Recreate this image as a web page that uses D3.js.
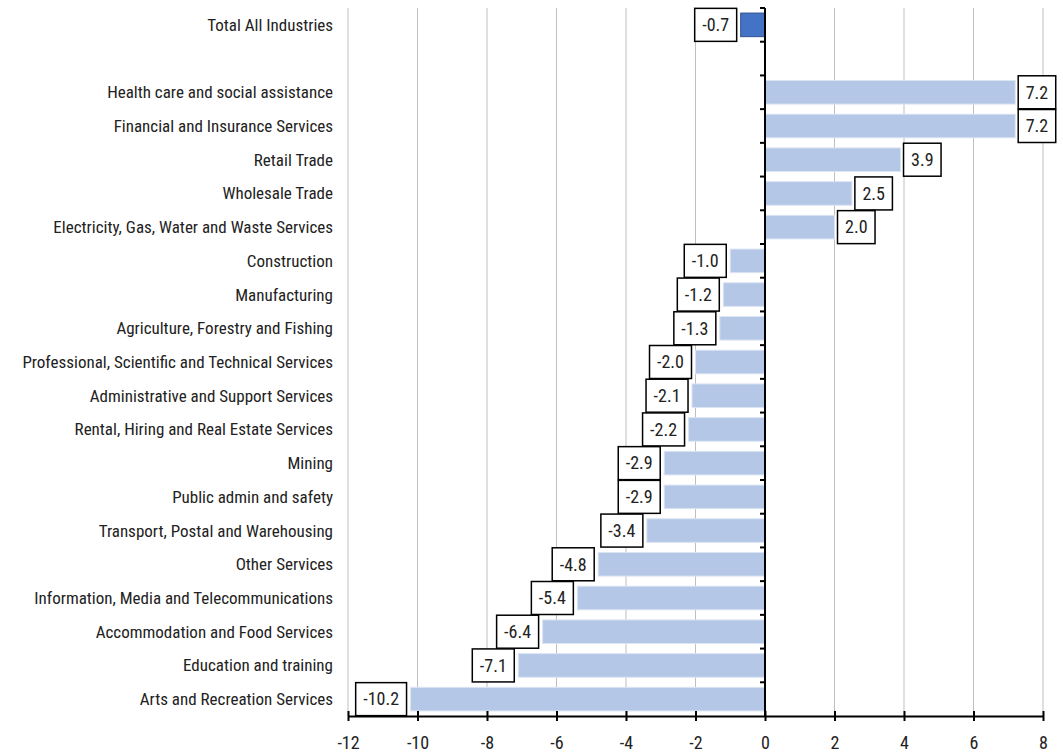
<!DOCTYPE html>
<html><head><meta charset="utf-8">
<script src="https://cdn.jsdelivr.net/npm/d3@7"></script>
<style>body{margin:0;background:#fff;} svg{display:block;}</style>
</head><body>
<svg id="c" width="1063" height="752"></svg>
<script>
const categories = ["Total All Industries","","Health care and social assistance","Financial and Insurance Services","Retail Trade","Wholesale Trade","Electricity, Gas, Water and Waste Services","Construction","Manufacturing","Agriculture, Forestry and Fishing","Professional, Scientific and Technical Services","Administrative and Support Services","Rental, Hiring and Real Estate Services","Mining","Public admin and safety","Transport, Postal and Warehousing","Other Services","Information, Media and Telecommunications","Accommodation and Food Services","Education and training","Arts and Recreation Services"];
const values = [-0.7,null,7.2,7.2,3.9,2.5,2.0,-1.0,-1.2,-1.3,-2.0,-2.1,-2.2,-2.9,-2.9,-3.4,-4.8,-5.4,-6.4,-7.1,-10.2];
const xTicks = [-12,-10,-8,-6,-4,-2,0,2,4,6,8];

const font = "'Liberation Sans Narrow','Roboto Condensed','Liberation Sans',sans-serif";
const hy = s => s.replace("\u2212","-");
const svg = d3.select("#c");
const x = d3.scaleLinear().domain([-12,8]).range([348,1043]);
const y = d3.scaleBand().domain(d3.range(categories.length)).range([8,716]).paddingInner(0.3).paddingOuter(0.15);

// gridlines
svg.append("g").selectAll("line").data(xTicks.filter(d=>d!==0)).join("line")
  .attr("x1",d=>x(d)).attr("x2",d=>x(d)).attr("y1",8).attr("y2",716)
  .attr("stroke","#bfbfbf").attr("stroke-width",1);

// bars
const data = categories.map((c,i)=>({c,i,v:values[i]})).filter(d=>d.v!==null);
svg.append("g").selectAll("rect").data(data).join("rect")
  .attr("x",d=>x(Math.min(0,d.v))).attr("width",d=>Math.abs(x(d.v)-x(0)))
  .attr("y",d=>y(d.i)).attr("height",y.bandwidth())
  .attr("fill",d=>d.i===0?"#4472C4":"#B4C7E7")
  .attr("stroke",d=>d.i===0?"#2F528F":"#dbe4f3").attr("stroke-width",1);

// y axis line and ticks
svg.append("line").attr("x1",x(0)).attr("x2",x(0)).attr("y1",8).attr("y2",716).attr("stroke","#000").attr("stroke-width",2);
svg.append("g").selectAll("line").data(d3.range(categories.length)).join("line")
  .attr("x1",x(0)-5).attr("x2",x(0)).attr("y1",(d,i)=>8+i*(708/categories.length)).attr("y2",(d,i)=>8+i*(708/categories.length))
  .attr("stroke","#000").attr("stroke-width",2);

// x axis
const xa = svg.append("g").attr("transform","translate(0,716)")
  .call(d3.axisBottom(x).tickValues(xTicks).tickSize(5).tickSizeOuter(0).tickFormat(d=>hy(d3.format("d")(d))));
xa.select(".domain").attr("stroke","#000").attr("stroke-width",2);
xa.selectAll(".tick line").attr("stroke","#000").attr("stroke-width",2).attr("y1",-5).attr("y2",5);
xa.selectAll(".tick text").attr("dy",0).attr("y",33).attr("font-family",font).attr("font-size",18).attr("fill","#222");

// category labels
svg.append("g").selectAll("text").data(categories).join("text")
  .attr("x",333).attr("y",(d,i)=>y(i)+y.bandwidth()/2).attr("dy","0.35em")
  .attr("text-anchor","end").attr("font-family",font).attr("font-size",17).attr("fill","#222")
  .text(d=>d);

// value labels with boxes
const lg = svg.append("g").selectAll("g").data(data).join("g");
lg.each(function(d){
  const g = d3.select(this);
  const t = g.append("text").text(hy(d3.format(".1f")(d.v)))
    .attr("font-family",font).attr("font-size",18).attr("fill","#222").attr("text-anchor","middle");
  const w = t.node().getComputedTextLength()+15;
  const h = 33;
  const cy = y(d.i)+y.bandwidth()/2;
  const cx = d.v>=0 ? x(d.v)+3+w/2 : x(d.v)-4-w/2;
  g.insert("rect","text").attr("x",cx-w/2).attr("y",cy-h/2).attr("width",w).attr("height",h)
    .attr("fill","#fff").attr("stroke","#000").attr("stroke-width",1.5);
  t.attr("x",cx).attr("y",cy).attr("dy","0.35em");
});
</script>
</body></html>
